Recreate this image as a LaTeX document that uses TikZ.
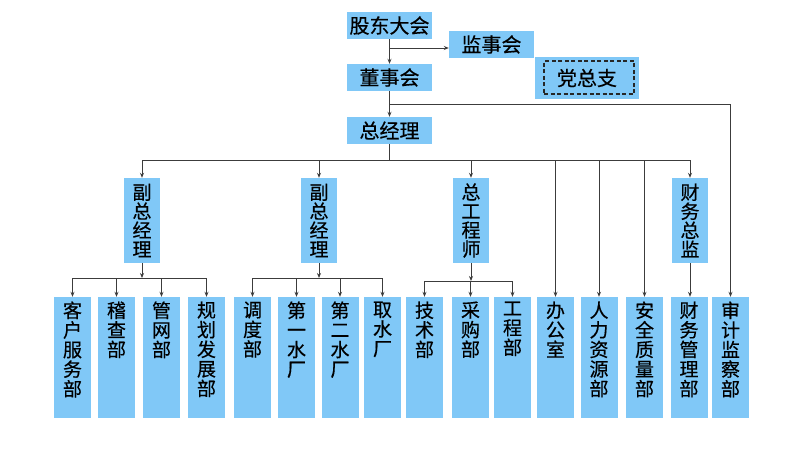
\documentclass[tikz,border=0pt]{standalone}
\usepackage{fontspec}
\setmainfont[FakeBold=0.4]{Noto Sans CJK SC}
\usetikzlibrary{arrows.meta}
\definecolor{boxblue}{RGB}{128,200,247}
\definecolor{linegray}{RGB}{60,60,60}
\tikzset{
  topbox/.style={fill=boxblue, minimum width=85pt, minimum height=27pt, inner sep=0pt, font=\fontsize{20}{20}\selectfont},
  midbox/.style={fill=boxblue, minimum width=36pt, minimum height=85pt, inner sep=0pt, align=center, font=\fontsize{19}{19}\selectfont},
  dept/.style={fill=boxblue, minimum width=37pt, minimum height=121pt, inner sep=0pt},
  vt/.style={anchor=north, inner sep=0pt, align=center, yshift=-4.5pt, font=\fontsize{19}{19.6}\selectfont},
  conn/.style={draw=linegray, line width=0.8pt},
  arr/.style={conn, -{Stealth[length=5pt,width=4pt]}}
}
\newcommand\deptnode[3]{\node[dept] (#1) at (#2,357.5) {}; \node[vt] (#1t) at (#1.north) {#3};}
\begin{document}
\begin{tikzpicture}[x=1pt,y=-1pt]
\useasboundingbox (0,0) rectangle (800,450);
% top
\node[topbox] (gd) at (389.5,25.5) {股东大会};
\node[topbox] (jsh) at (491.5,44.5) {监事会};
\node[topbox, minimum width=104pt, minimum height=42pt] (dzz) at (587,78) {党总支};
\node[draw=black!85, dashed, dash pattern=on 4pt off 2.5pt, line width=1.1pt, minimum width=90pt, minimum height=33pt, inner sep=0pt] (dzzin) at (589,77.5) {};
\node[topbox] (dsh) at (389.5,77.5) {董事会};
\node[topbox] (zjl) at (389.5,130.5) {总经理};
% second level
\node[midbox] (f1) at (142,220.5) {副\\总\\经\\理};
\node[midbox] (f2) at (319,220.5) {副\\总\\经\\理};
\node[midbox] (zg) at (471,220.5) {总\\工\\程\\师};
\node[midbox] (fz) at (690,220.5) {财\\务\\总\\监};
% departments
\deptnode{d1}{72.5}{客\\户\\服\\务\\部}
\deptnode{d2}{116.5}{稽\\查\\部}
\deptnode{d3}{161.5}{管\\网\\部}
\deptnode{d4}{206.5}{规\\划\\发\\展\\部}
\deptnode{d5}{252.5}{调\\度\\部}
\deptnode{d6}{296.5}{第\\一\\水\\厂}
\deptnode{d7}{340}{第\\二\\水\\厂}
\deptnode{d8}{382.5}{取\\水\\厂}
\deptnode{d9}{424.5}{技\\术\\部}
\deptnode{d10}{470.5}{采\\购\\部}
\deptnode{d11}{512.5}{工\\程\\部}
\deptnode{d12}{555.5}{办\\公\\室}
\deptnode{d13}{599}{人\\力\\资\\源\\部}
\deptnode{d14}{644.5}{安\\全\\质\\量\\部}
\deptnode{d15}{689}{财\\务\\管\\理\\部}
\deptnode{d16}{730.5}{审\\计\\监\\察\\部}
% connectors top
\draw[arr] (gd) -- (dsh);
\coordinate (j1) at (gd.south |- 0,48);
\draw[arr] (j1) -- (j1 -| jsh.west);
\draw[arr] (dsh) -- (zjl);
\coordinate (r1) at (dsh.south |- 0,104);
\draw[arr] (r1) -| (d16.north);
\coordinate (b1) at (zjl.south |- 0,160);
\draw[conn] (zjl.south) -- (b1);
\draw[conn] (f1.north |- b1) -- (fz.north |- b1);
\foreach \n in {f1,f2,zg,d12,d13,d14,fz} \draw[arr] (\n.north |- b1) -- (\n.north);
\draw[arr] (fz.south) -- (fz.south |- d15.north);
% groups
\coordinate (g1) at (f1.south |- 0,278);
\draw[arr] (f1.south) -- (g1);
\draw[conn] (d1.north |- g1) -- (d4.north |- g1);
\foreach \n in {d1,d2,d3,d4} \draw[arr] (\n.north |- g1) -- (\n.north);
\coordinate (g2) at (f2.south |- 0,278);
\draw[arr] (f2.south) -- (g2);
\draw[conn] (d5.north |- g2) -- (d8.north |- g2);
\foreach \n in {d5,d6,d7,d8} \draw[arr] (\n.north |- g2) -- (\n.north);
\coordinate (g3) at (zg.south |- 0,281);
\draw[arr] (zg.south) -- (g3);
\draw[conn] (d9.north |- g3) -- (d11.north |- g3);
\foreach \n in {d9,d10,d11} \draw[arr] (\n.north |- g3) -- (\n.north);
\end{tikzpicture}
\end{document}
